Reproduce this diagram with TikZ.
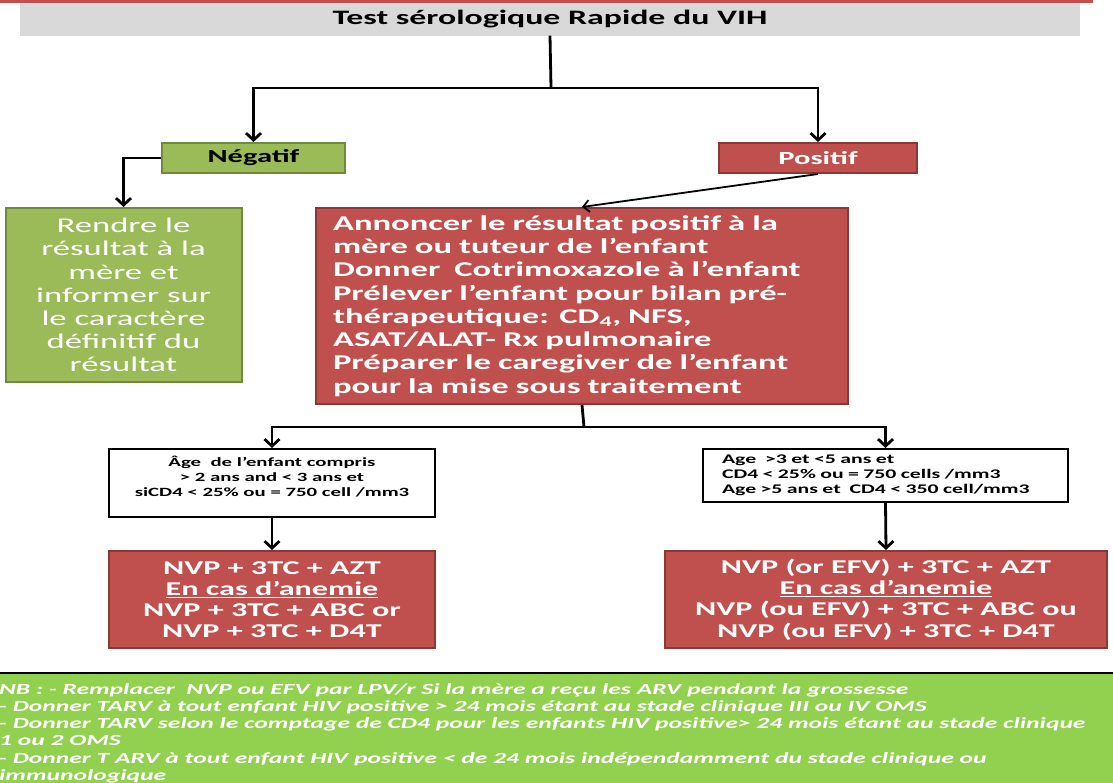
\documentclass[tikz,border=0pt]{standalone}
\usepackage{fontspec}
\setmainfont{Carlito}[FakeStretch=1.65]
\usetikzlibrary{arrows.meta}

\definecolor{redfill}{HTML}{C0504D}
\definecolor{redline}{HTML}{8C3836}
\definecolor{greenfill}{HTML}{9BBB59}
\definecolor{greenline}{HTML}{71893F}
\definecolor{greyfill}{HTML}{D9D9D9}
\definecolor{nbfill}{HTML}{92D050}

\tikzset{
  redbox/.style={draw=redline, fill=redfill, line width=2pt, text=white, font=\bfseries, inner sep=0pt},
  greenbox/.style={draw=greenline, fill=greenfill, line width=2pt, inner sep=0pt},
  condbox/.style={draw=black, fill=white, line width=2pt, inner sep=0pt,
    font=\bfseries\fontsize{12.6}{15}\selectfont},
  link/.style={line width=2.8pt, -{Straight Barb[length=7pt,width=15pt,line width=2.8pt]}},
  thinlink/.style={line width=1.8pt, -{Straight Barb[length=6pt,width=12pt,line width=1.8pt]}},
}

\begin{document}
\begin{tikzpicture}[x=1pt, y=-1pt, line cap=butt, line join=miter]

  %% ---- title bar ----
  \fill[redfill] (0,0) rectangle (1093,2.5);
  \node[fill=greyfill, minimum width=1060pt, minimum height=33pt, inner sep=0pt,
        font=\bfseries\fontsize{20.5}{24}\selectfont] (title) at (550,19) {Test sérologique Rapide du VIH};

  %% ---- first result ----
  \node[greenbox, minimum width=183pt, minimum height=30pt,
        font=\bfseries\fontsize{18.5}{22}\selectfont] (neg) at (253.5,158) {Négatif};
  \node[redbox, minimum width=198pt, minimum height=30pt,
        font=\bfseries\fontsize{18.5}{22}\selectfont] (pos) at (818,158) {Positif};

  \coordinate (split) at (551,88);
  \draw[line width=2.8pt] (title.south) -- (split);
  \draw[link] (split) -| (neg.north);
  \draw[link] (split) -| (pos.north);

  %% ---- second level ----
  \node[greenbox, minimum width=236pt, minimum height=174pt, text=white, align=center,
        font=\fontsize{21}{23.2}\selectfont] (negres) at (123.5,295)
    {Rendre le\\résultat à la\\mère et\\informer sur\\le caractère\\définitif du\\résultat};

  \node[redbox, minimum width=532pt, minimum height=196pt, text width=498pt, align=left,
        inner xsep=17pt, font=\bfseries\fontsize{21}{23.3}\selectfont] (posres) at (582,306)
    {Annoncer le résultat positif à la\\
     mère ou tuteur de l’enfant\\
     Donner~ Cotrimoxazole à l’enfant\\
     Prélever l’enfant pour bilan pré-\\
     thérapeutique: CD\textsubscript{4}, NFS,\\
     ASAT/ALAT- Rx pulmonaire\\
     Préparer le caregiver de l’enfant\\
     pour la mise sous traitement};

  \draw[link] (neg.west) -| (negres.north);
  \draw[thinlink] (pos.south) -- (posres.north);

  %% ---- conditions ----
  \node[condbox, minimum width=326pt, minimum height=68pt, align=center, text depth=13pt] (condL) at (272,483)
    {Âge~ de l’enfant compris\\> 2 ans and < 3 ans et\\siCD4 < 25\% ou = 750 cell /mm3};
  \node[condbox, minimum width=365pt, minimum height=53pt, text width=327pt, align=left,
        inner xsep=19pt, font=\bfseries\fontsize{13.2}{15}\selectfont] (condR) at (885.5,475.5)
    {Age~ >3 et <5 ans et\\CD4 < 25\% ou = 750 cells /mm3\\Age >5 ans et~ CD4 < 350 cell/mm3};

  \coordinate (split2) at (584,427);
  \draw[line width=2.8pt] (posres.south) -- (split2);
  \draw[link] (split2) -| (condL.north);
  \draw[link] (split2) -| (condR.north);

  %% ---- regimens ----
  \node[redbox, minimum width=326pt, minimum height=97pt, align=center,
        font=\bfseries\fontsize{19.5}{21.2}\selectfont] (regL) at (272,599.5)
    {NVP + 3TC + AZT\\\underline{En cas d’anemie}\\NVP + 3TC + ABC or\\NVP + 3TC + D4T};
  \node[redbox, minimum width=442pt, minimum height=97pt, align=center,
        font=\bfseries\fontsize{19.5}{21.2}\selectfont] (regR) at (886,599.5)
    {NVP (or EFV) + 3TC + AZT\\\underline{En cas d’anemie}\\NVP (ou EFV) + 3TC + ABC ou\\NVP (ou EFV) + 3TC + D4T};

  \draw[link] (condL.south) -- (regL.north);
  \draw[link] (condR.south) -- (regR.north);

  %% ---- note band ----
  \fill[nbfill] (0,673) rectangle (1113,790);
  \draw[line width=1.5pt] (0,673) -- (1113,673);
  \node[anchor=north west, inner sep=0pt, align=left, text=white,
        font=\bfseries\itshape\fontsize{15.5}{17.3}\selectfont] (nb) at (-1,683)
    {NB : - Remplacer~ NVP ou EFV par LPV/r Si la mère a reçu les ARV pendant la grossesse\\
     - Donner TARV à tout enfant HIV positive > 24 mois étant au stade clinique III ou IV OMS\\
     - Donner TARV selon le comptage de CD4 pour les enfants HIV positive> 24 mois étant au stade clinique\\
     1 ou 2 OMS\\
     - Donner T ARV à tout enfant HIV positive < de 24 mois indépendamment du stade clinique ou\\
     immunologique};

  \pgfresetboundingbox
  \path[use as bounding box] (0,0) rectangle (1113,782);
\end{tikzpicture}
\end{document}
